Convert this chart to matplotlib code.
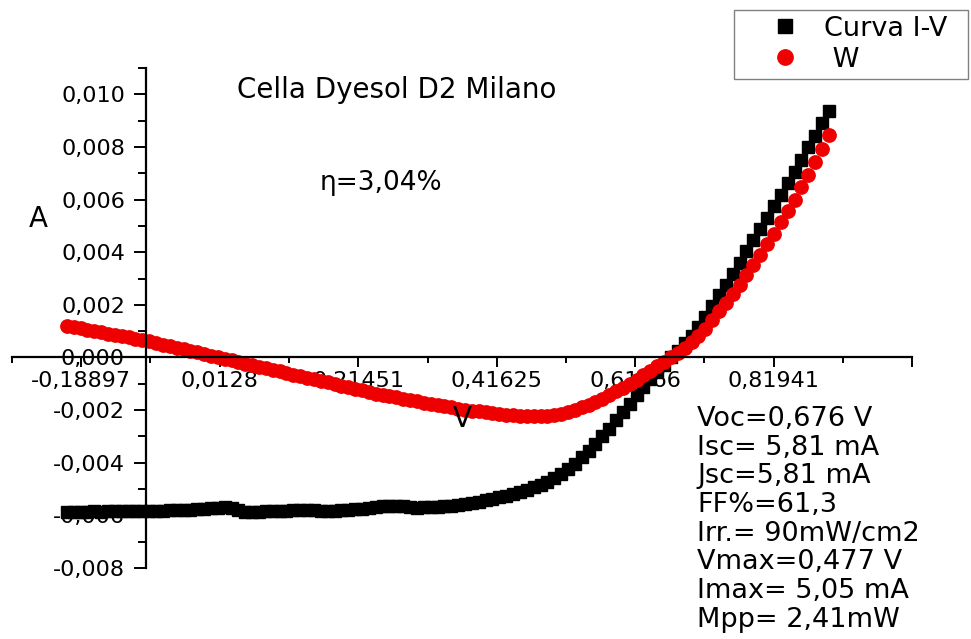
import matplotlib
matplotlib.use("Agg")
import matplotlib.pyplot as plt

W_PX, H_PX = 971, 639

# voltage sweep (V)
voltage = [
    -0.21, -0.20, -0.19, -0.18, -0.17, -0.16, -0.15, -0.14, -0.13, -0.12,
    -0.11, -0.10, -0.09, -0.08, -0.07, -0.06, -0.05, -0.04, -0.03, -0.02,
    -0.01, 0.00, 0.01, 0.02, 0.03, 0.04, 0.05, 0.06, 0.07, 0.08,
    0.09, 0.10, 0.11, 0.12, 0.13, 0.14, 0.15, 0.16, 0.17, 0.18,
    0.19, 0.20, 0.21, 0.22, 0.23, 0.24, 0.25, 0.26, 0.27, 0.28,
    0.29, 0.30, 0.31, 0.32, 0.33, 0.34, 0.35, 0.36, 0.37, 0.38,
    0.39, 0.40, 0.41, 0.42, 0.43, 0.44, 0.45, 0.46, 0.47, 0.48,
    0.49, 0.50, 0.51, 0.52, 0.53, 0.54, 0.55, 0.56, 0.57, 0.58,
    0.59, 0.60, 0.61, 0.62, 0.63, 0.64, 0.65, 0.66, 0.67, 0.68,
    0.69, 0.70, 0.71, 0.72, 0.73, 0.74, 0.75, 0.76, 0.77, 0.78,
    0.79, 0.80, 0.81, 0.82, 0.83, 0.84, 0.85, 0.86, 0.87, 0.88,
    0.89, 0.90,
]

# black squares: Curva I-V (A)
current = [
    -0.00587, -0.00586, -0.00587, -0.00586, -0.00585, -0.00586, -0.00585, -0.00584, -0.00585, -0.00584,
    -0.00583, -0.00584, -0.00583, -0.00582, -0.00583, -0.00581, -0.00580, -0.00581, -0.00579, -0.00577,
    -0.00575, -0.00573, -0.00571, -0.00570, -0.00573, -0.00580, -0.00586, -0.00588, -0.00587, -0.00585,
    -0.00584, -0.00583, -0.00582, -0.00580, -0.00579, -0.00579, -0.00581, -0.00583, -0.00583, -0.00582,
    -0.00581, -0.00579, -0.00577, -0.00575, -0.00572, -0.00569, -0.00566, -0.00564, -0.00563, -0.00566,
    -0.00570, -0.00571, -0.00570, -0.00569, -0.00568, -0.00566, -0.00563, -0.00560, -0.00556, -0.00552,
    -0.00548, -0.00543, -0.00538, -0.00532, -0.00526, -0.00519, -0.00511, -0.00503, -0.00494, -0.00484,
    -0.00472, -0.00458, -0.00442, -0.00424, -0.00403, -0.00380, -0.00355, -0.00328, -0.00300, -0.00270,
    -0.00239, -0.00207, -0.00175, -0.00143, -0.00112, -0.00082, -0.00054, -0.00027, 0.00000, 0.00026,
    0.00054, 0.00083, 0.00117, 0.00153, 0.00195, 0.00236, 0.00277, 0.00318, 0.00360, 0.00403,
    0.00446, 0.00488, 0.00531, 0.00574, 0.00618, 0.00662, 0.00706, 0.00751, 0.00798, 0.00843,
    0.00890, 0.00937,
]

# red circles: W
power = [
    0.00121, 0.00116, 0.00111, 0.00106, 0.00101, 0.00096, 0.00091, 0.00086, 0.00081, 0.00076,
    0.00071, 0.00066, 0.00061, 0.00055, 0.00049, 0.00043, 0.00037, 0.00031, 0.00025, 0.00019,
    0.00013, 0.00007, 0.00001, -0.00005, -0.00011, -0.00017, -0.00023, -0.00029, -0.00035, -0.00041,
    -0.00047, -0.00053, -0.00059, -0.00065, -0.00071, -0.00077, -0.00083, -0.00089, -0.00095, -0.00101,
    -0.00107, -0.00113, -0.00119, -0.00125, -0.00131, -0.00137, -0.00142, -0.00147, -0.00152, -0.00157,
    -0.00162, -0.00167, -0.00172, -0.00177, -0.00182, -0.00186, -0.00190, -0.00194, -0.00198, -0.00202,
    -0.00205, -0.00208, -0.00211, -0.00214, -0.00217, -0.00219, -0.00221, -0.00223, -0.00224, -0.00224,
    -0.00222, -0.00218, -0.00213, -0.00206, -0.00198, -0.00189, -0.00179, -0.00168, -0.00156, -0.00143,
    -0.00129, -0.00115, -0.00100, -0.00084, -0.00068, -0.00051, -0.00034, -0.00017, 0.00000, 0.00018,
    0.00037, 0.00058, 0.00083, 0.00110, 0.00142, 0.00175, 0.00208, 0.00242, 0.00277, 0.00314,
    0.00352, 0.00390, 0.00430, 0.00471, 0.00513, 0.00556, 0.00600, 0.00646, 0.00694, 0.00742,
    0.00792, 0.00845,
]

x_major = [-0.18897, 0.0128, 0.21451, 0.41625, 0.61766, 0.81941, 1.0211]
x_major_labels = ["-0,18897", "0,0128", "0,21451", "0,41625", "0,61766", "0,81941", ""]
x_minor = [-0.2898, -0.0881, 0.1137, 0.3154, 0.5170, 0.7185, 0.9203]

y_major = [-0.008, -0.006, -0.004, -0.002, 0.000, 0.002, 0.004, 0.006, 0.008, 0.010]
y_major_labels = ["-0,008", "-0,006", "-0,004", "-0,002", "0,000",
                  "0,002", "0,004", "0,006", "0,008", "0,010"]
y_minor = [-0.007, -0.005, -0.003, -0.001, 0.001, 0.003, 0.005, 0.007, 0.009, 0.011]

series_labels = ["Curva I-V", " W"]
title_text = "Cella Dyesol D2 Milano"
eta_text = "η=3,04%"
info_lines = [
    "Voc=0,676 V",
    "Isc= 5,81 mA",
    "Jsc=5,81 mA",
    "FF%=61,3",
    "Irr.= 90mW/cm2",
    "Vmax=0,477 V",
    "Imax= 5,05 mA",
    "Mpp= 2,41mW",
]


def fx(px):
    return px / W_PX


def fy(py):
    return 1 - py / H_PX


fig = plt.figure(figsize=(W_PX / 100, H_PX / 100), dpi=100)
ax = fig.add_axes([fx(12), fy(568), 900 / W_PX, 500 / H_PX])
ax.set_xlim(-0.2898, 1.0211)
ax.set_ylim(-0.008, 0.011)

ax.plot(voltage, current, ls="none", marker="s", ms=8.6, color="black",
        label=series_labels[0], clip_on=False)
ax.plot(voltage, power, ls="none", marker="o", ms=9.6, color="#ee0000",
        label=series_labels[1], clip_on=False)

for side in ("top", "right"):
    ax.spines[side].set_visible(False)
ax.spines["left"].set_position(("data", -0.095))
ax.spines["bottom"].set_position(("data", 0.0))
for side in ("left", "bottom"):
    ax.spines[side].set_linewidth(1.6)

ax.set_xticks(x_major, x_major_labels)
ax.set_xticks(x_minor, minor=True)
ax.set_yticks(y_major, y_major_labels)
ax.set_yticks(y_minor, minor=True)
ax.tick_params(axis="x", which="major", direction="out", length=7, width=1.4,
               labelsize=16, pad=3)
ax.tick_params(axis="x", which="minor", direction="out", length=4.5, width=1.4)
ax.tick_params(axis="y", which="major", direction="out", length=9, width=1.4,
               labelsize=16, pad=6)
ax.tick_params(axis="y", which="minor", direction="out", length=6, width=1.4)

fig.text(fx(38), fy(219), "A", fontsize=20, ha="center", va="center")
fig.text(fx(462), fy(419), "V", fontsize=20, ha="center", va="center")

fig.text(fx(397), fy(90), title_text, fontsize=20, ha="center", va="center")
fig.text(fx(381), fy(183), eta_text, fontsize=19, ha="center", va="center")

for i, line in enumerate(info_lines):
    fig.text(fx(697), fy(419 + i * 28.7), line, fontsize=19.5, ha="left", va="center")

leg = fig.legend(loc="upper left", bbox_to_anchor=(fx(734), fy(75), (968 - 734) / W_PX, 65 / H_PX),
                 mode="expand", frameon=True, fancybox=False, edgecolor="#808080",
                 framealpha=1, fontsize=19.5, handlelength=3.3, handletextpad=-0.2,
                 borderpad=0.22, labelspacing=0.18, borderaxespad=0, numpoints=1,
                 markerscale=1.15)
leg.get_frame().set_linewidth(1.0)

fig.savefig("out.png", dpi=100)
